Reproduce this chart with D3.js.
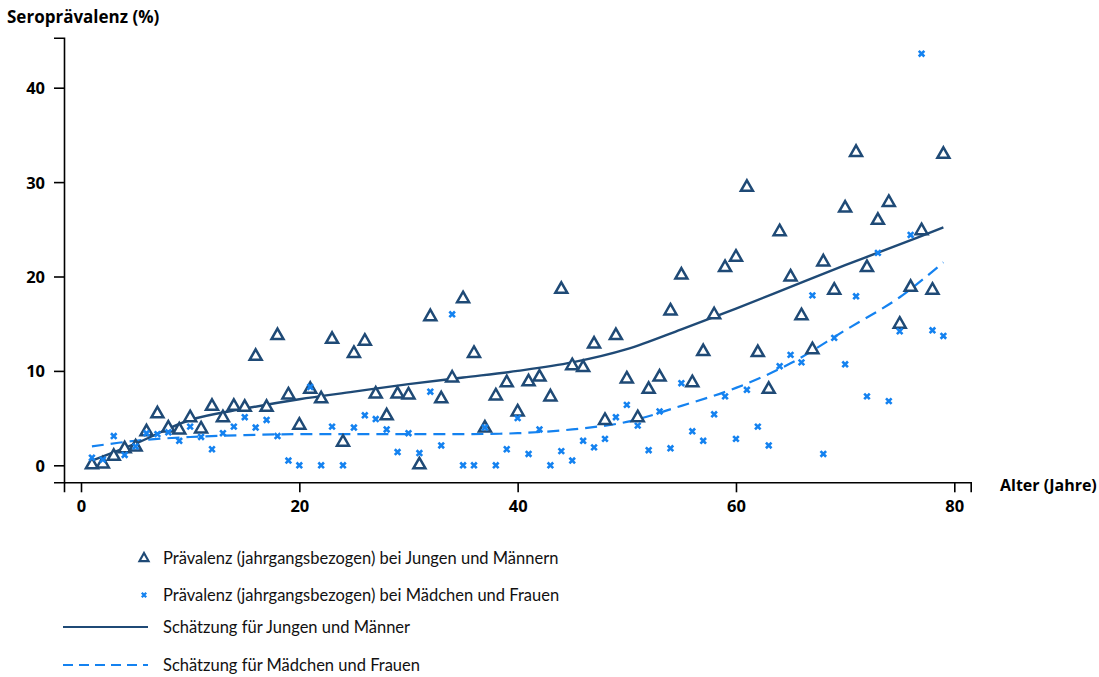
<!DOCTYPE html>
<html><head><meta charset="utf-8">
<script src="https://cdn.jsdelivr.net/npm/d3@7/dist/d3.min.js"></script>
<style>
html,body{margin:0;padding:0;background:#fff;}
svg{display:block;font-family:Lato,"Open Sans",sans-serif;}
</style></head>
<body><svg id="c" width="1099" height="677"></svg>
<script>
const ages = [1,2,3,4,5,6,7,8,9,10,11,12,13,14,15,16,17,18,19,20,21,22,23,24,25,26,27,28,29,30,31,32,33,34,35,36,37,38,39,40,41,42,43,44,45,46,47,48,49,50,51,52,53,54,55,56,57,58,59,60,61,62,63,64,65,66,67,68,69,70,71,72,73,74,75,76,77,78,79];
const maleValues = [0.1,0.2,1.0,1.8,2.0,3.6,5.5,4.0,3.8,5.1,3.9,6.3,5.1,6.3,6.2,11.6,6.2,13.8,7.5,4.3,8.1,7.1,13.4,2.5,11.9,13.2,7.6,5.3,7.6,7.5,0.1,15.8,7.1,9.3,17.7,11.9,4.0,7.4,8.8,5.7,8.9,9.4,7.3,18.7,10.6,10.4,12.9,4.8,13.8,9.2,5.1,8.1,9.4,16.4,20.2,8.8,12.1,16.0,21.0,22.1,29.5,12.0,8.1,24.8,20.0,15.9,12.3,21.6,18.6,27.3,33.2,21.0,26.0,27.9,15.0,18.9,24.9,18.6,33.0];
const femaleValues = [0.8,0.6,3.1,1.1,2.0,3.4,3.3,3.5,2.6,4.1,3.0,1.7,3.4,4.1,5.1,4.0,4.8,3.1,0.5,0.0,8.3,0.0,4.1,0.0,4.0,5.3,4.9,3.8,1.4,3.4,1.3,7.8,2.1,16.0,0.0,0.0,4.0,0.0,1.7,5.0,1.2,3.8,0.0,1.5,0.5,2.6,1.9,2.8,5.1,6.4,4.2,1.6,5.7,1.8,8.7,3.6,2.6,5.4,7.3,2.8,8.0,4.1,2.1,10.5,11.7,10.9,18.0,1.2,13.5,10.7,17.9,7.3,22.5,6.8,14.2,24.4,43.6,14.3,13.7];
const fitAges = [1,5,10,15,20,25,30,35,40,45,50,55,60,65,70,75,79];
const maleFit = [0.5,2.3,4.8,6.0,7.0,7.8,8.6,9.3,10.0,10.9,12.3,14.4,16.6,18.9,21.2,23.4,25.2];
const femaleFit = [2.0,2.6,3.0,3.2,3.3,3.3,3.3,3.3,3.4,3.8,4.6,6.3,8.2,10.8,14.3,17.8,21.5];
const xTicks = [0,20,40,60,80];
const yTicks = [0,10,20,30,40];
const yTitle = "Seroprävalenz (%)";
const xTitle = "Alter (Jahre)";
const legendLabels = [
  "Prävalenz (jahrgangsbezogen) bei Jungen und Männern",
  "Prävalenz (jahrgangsbezogen) bei Mädchen und Frauen",
  "Schätzung für Jungen und Männer",
  "Schätzung für Mädchen und Frauen"
];

const navy = "#1f4a76", blue = "#1482f0";
const boldFont = "'Open Sans',Lato,sans-serif";
const svg = d3.select("#c");
const x = d3.scaleLinear().domain([0,80]).range([81,954.3]);
const y = d3.scaleLinear().domain([0,40]).range([465.3,87.7]);
const axisX0 = 64, axisX1 = 970.7, axisY0 = 482.3, axisY1 = 37.7;

const xa = x.copy().domain([x.invert(axisX0), x.invert(axisX1)]).range([axisX0, axisX1]);
const ya = y.copy().domain([y.invert(axisY0), y.invert(axisY1)]).range([axisY0, axisY1]);

const gx = svg.append("g").attr("transform", `translate(0,${axisY0})`)
  .call(d3.axisBottom(xa).tickValues(xTicks).tickSizeOuter(0).tickSize(10).tickPadding(6).tickFormat(d3.format("d")));
const gy = svg.append("g").attr("transform", `translate(${axisX0},0)`)
  .call(d3.axisLeft(ya).tickValues(yTicks).tickSizeOuter(0).tickSize(10).tickPadding(9).tickFormat(d3.format("d")));
[gx, gy].forEach(g => {
  g.select(".domain").attr("stroke","#000").attr("stroke-width",1.6);
  g.selectAll(".tick line").attr("stroke","#000").attr("stroke-width",1.6);
  g.selectAll(".tick text").attr("fill","#000").style("font-size","16.5px").style("font-weight","bold").style("font-family",boldFont);
});
gy.selectAll(".tick text").attr("dy","0.36em");
gx.selectAll(".tick text").attr("dy","0.85em");

svg.append("text").attr("x",7).attr("y",23).text(yTitle)
  .style("font-size","17px").style("font-weight","bold").style("font-family",boldFont).attr("fill","#000");
svg.append("text").attr("x",1000).attr("y",491).text(xTitle)
  .style("font-size","16px").style("font-weight","bold").style("font-family",boldFont).attr("fill","#000");

const tri = (w,h) => `M0,${-h*0.62}L${w/2},${h*0.38}L${-w/2},${h*0.38}Z`;
const crs = s => `M${-s},${-s}L${s},${s}M${-s},${s}L${s},${-s}`;

const line = d3.line().x(d=>x(d[0])).y(d=>y(d[1])).curve(d3.curveCatmullRom.alpha(0.5));
svg.append("path").datum(fitAges.map((a,i)=>[a,femaleFit[i]]))
  .attr("d",line).attr("fill","none").attr("stroke",blue).attr("stroke-width",2.2).attr("stroke-dasharray","12,7");
svg.append("path").datum(fitAges.map((a,i)=>[a,maleFit[i]]))
  .attr("d",line).attr("fill","none").attr("stroke",navy).attr("stroke-width",2.4);

svg.append("g").selectAll("path").data(ages.map((a,i)=>[a,maleValues[i]])).join("path")
  .attr("transform",d=>`translate(${x(d[0])},${y(d[1])})`)
  .attr("d",tri(12,10.5)).attr("fill","#fff").attr("stroke",navy).attr("stroke-width",2.5).attr("stroke-linejoin","miter");
svg.append("g").selectAll("path").data(ages.map((a,i)=>[a,femaleValues[i]])).join("path")
  .attr("transform",d=>`translate(${x(d[0])},${y(d[1])})`)
  .attr("d",crs(2.8)).attr("fill","none").attr("stroke",blue).attr("stroke-width",2.6);

const lg = svg.append("g");
const rows = [558, 595, 627, 665];
lg.append("path").attr("transform",`translate(144,${rows[0]})`).attr("d",tri(9,8)).attr("fill","#fff").attr("stroke",navy).attr("stroke-width",2.2);
lg.append("path").attr("transform",`translate(144,${rows[1]})`).attr("d",crs(2.2)).attr("fill","none").attr("stroke",blue).attr("stroke-width",2.3);
lg.append("line").attr("x1",63).attr("x2",148).attr("y1",rows[2]).attr("y2",rows[2]).attr("stroke",navy).attr("stroke-width",2.2);
lg.append("line").attr("x1",63).attr("x2",148).attr("y1",rows[3]).attr("y2",rows[3]).attr("stroke",blue).attr("stroke-width",2.2).attr("stroke-dasharray","10,6");
legendLabels.forEach((t,i)=>{
  lg.append("text").attr("x",163).attr("y",rows[i]).attr("dy","0.35em").text(t)
    .style("font-size","16.5px").attr("fill","#111");
});
</script></body></html>
